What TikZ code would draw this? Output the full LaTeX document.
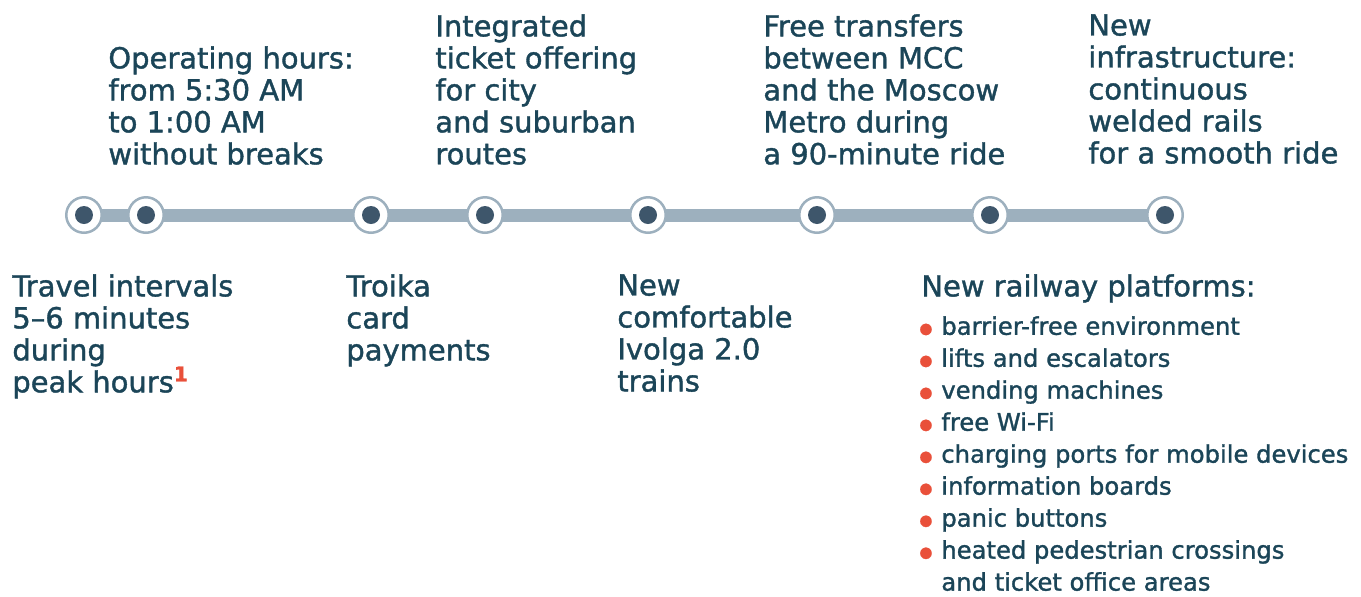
\documentclass[tikz,border=0pt]{standalone}
\usepackage{fontspec}
\setmainfont{DejaVu Sans}[FakeBold=1.3]
\usepackage{tikz}
\usetikzlibrary{positioning}
\usetikzlibrary{backgrounds}
\definecolor{railgrey}{HTML}{9DB0BE}
\definecolor{dotblue}{HTML}{3E566B}
\definecolor{textblue}{HTML}{1B4558}
\definecolor{accentred}{HTML}{E9503A}
\newcommand{\bul}{\makebox[0.44cm][l]{\raisebox{0.8pt}{\textcolor{accentred}{\fontsize{8.6}{9}\selectfont ●}}}}
\newcommand{\bulgap}{\hspace*{0.44cm}}

\begin{document}
\begin{tikzpicture}[x=0.02cm,y=-0.02cm,
      stop/.style={
         circle,
         draw=railgrey,
         line width=0.05cm,
         fill=white,
         inner sep=0pt,
         minimum size=0.71cm,
         path picture={\fill[dotblue] (path picture bounding box.center) circle (0.18cm);}},
      rail/.style={draw=railgrey,line width=0.26cm},
      label/.style={
         anchor=north west,
         inner sep=0pt,
         align=left,
         text=textblue,
         font=\fontsize{16.5}{18.2}\selectfont},
      listtext/.style={
         anchor=north west,
         inner sep=0pt,
         align=left,
         text=textblue,
         font=\fontsize{13.8}{18.2}\selectfont}
      ]
      \useasboundingbox (0,0) rectangle (1361,596);

      % stops along the line
      \foreach \x [count=\i] in {84,146,371,485,648,817,990,1165}
         \node[stop] (m\i) at (\x,215) {};

      \begin{scope}[on background layer]
         \draw[rail] (m1.center) -- (m8.center);
      \end{scope}

      % texts above the line
      \node[label] (hours) at (108,46) {Operating hours:\\from 5:30 AM\\to 1:00 AM\\without breaks};
      \node[label] (ticket) at (435,14) {Integrated\\ticket offering\\for city\\and suburban\\routes};
      \node[label] (transfer) at (763,14) {Free transfers\\between MCC\\and the Moscow\\Metro during\\a 90-minute ride};
      \node[label] (rails) at (1088,14) {New\\infrastructure:\\continuous\\welded rails\\for a smooth ride};

      % texts below the line
      \node[label] (intervals) at (12,274) {Travel intervals\\5--6 minutes\\during\\peak hours\textsuperscript{\textcolor{accentred}{\bfseries 1}}};
      \node[label] (troika) at (346,274) {Troika\\card\\payments};
      \node[label] (ivolga) at (617,274) {New\\comfortable\\Ivolga 2.0\\trains};
      \node[label] (platforms) at (921,274) {New railway platforms:};
      \node[listtext] (amenities) at (919,316) {\bul barrier-free environment\\
         \bul lifts and escalators\\
         \bul vending machines\\
         \bul free Wi-Fi\\
         \bul charging ports for mobile devices\\
         \bul information boards\\
         \bul panic buttons\\
         \bul heated pedestrian crossings\\
         \bulgap and ticket office areas};
    \end{tikzpicture}
\end{document}
